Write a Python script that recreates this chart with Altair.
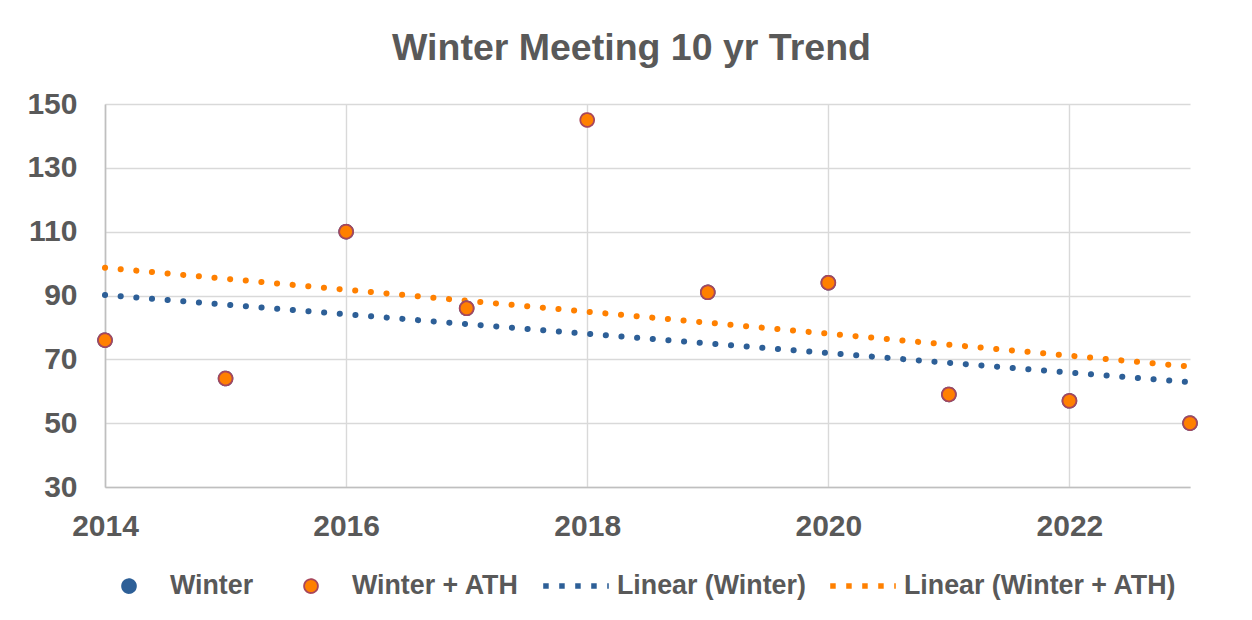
import altair as alt
import pandas as pd

years = [2014, 2015, 2016, 2017, 2018, 2019, 2020, 2021, 2022, 2023]
winter = [76, 64, 110, 86, None, 91, 94, 59, 57, 50]
winter_ath = [76, 64, 110, 86, 145, 91, 94, 59, 57, 50]

series_names = ["Winter", "Winter + ATH", "Linear (Winter)", "Linear (Winter + ATH)"]
x_ticks = [2014, 2016, 2018, 2020, 2022]
y_ticks = [30, 50, 70, 90, 110, 130, 150]

BLUE = "#2D5F97"
ORANGE = "#FF8000"
RED_EDGE = "#A8475B"
TEXT = "#595959"
FONT = "Liberation Sans"

rows = []
for yr, w, wa in zip(years, winter, winter_ath):
    if w is not None:
        rows.append({"year": yr, "value": w, "series": "Winter"})
    if wa is not None:
        rows.append({"year": yr, "value": wa, "series": "Winter + ATH"})
df = pd.DataFrame(rows)

fill_scale = alt.Scale(domain=series_names, range=[BLUE, ORANGE, BLUE, ORANGE])
stroke_scale = alt.Scale(domain=series_names, range=[BLUE, RED_EDGE, BLUE, ORANGE])
shape_scale = alt.Scale(domain=series_names, range=["circle", "circle", "stroke", "stroke"])
size_scale = alt.Scale(type="ordinal", domain=series_names, range=[190, 190, 4300, 4300])
dash_scale = alt.Scale(domain=series_names, range=[[1, 0], [1, 0], [5.5, 10.5], [5.5, 10.5]])
sw_scale = alt.Scale(type="ordinal", domain=series_names, range=[1.8, 1.8, 5.5, 5.5])

legend = alt.Legend(
    title=None,
    orient="none",
    legendX=-12,
    legendY=469,
    direction="horizontal",
    columns=4,
    columnPadding=21,
    labelFont=FONT,
    labelFontSize=26.8,
    labelFontWeight="bold",
    labelColor=TEXT,
    labelOffset=5,
    labelLimit=500,
    clipHeight=26,
    padding=0,
)

x_enc = alt.X(
    "year:Q",
    scale=alt.Scale(domain=[2014, 2023], nice=False, zero=False),
    axis=alt.Axis(values=x_ticks, format="d", title=None, labelFlush=False),
)
y_enc = alt.Y(
    "value:Q",
    scale=alt.Scale(domain=[30, 150], nice=False, zero=False),
    axis=alt.Axis(values=y_ticks, title=None, labelFlush=False),
)

points = alt.Chart(df).mark_point(filled=True, opacity=1).encode(
    x=x_enc,
    y=y_enc,
    fill=alt.Fill("series:N", scale=fill_scale, legend=legend),
    stroke=alt.Stroke("series:N", scale=stroke_scale, legend=legend),
    shape=alt.Shape("series:N", scale=shape_scale, legend=legend),
    size=alt.Size("series:N", scale=size_scale, legend=legend),
    strokeWidth=alt.StrokeWidth("series:N", scale=sw_scale, legend=legend),
    strokeDash=alt.StrokeDash("series:N", scale=dash_scale, legend=legend),
    order=alt.Order("series:N"),
)

trend = (
    alt.Chart(df)
    .transform_regression("year", "value", groupby=["series"], extent=[2014, 2023])
    .transform_calculate(series="'Linear (' + datum.series + ')'")
    .mark_line(strokeCap="round", strokeWidth=6, strokeDash=[0.1, 15.6])
    .encode(
        x=x_enc,
        y=y_enc,
        stroke=alt.Stroke("series:N", scale=stroke_scale, legend=legend),
    )
)

chart = (
    alt.layer(trend, points)
    .properties(
        width=1085,
        height=383,
        background="white",
        padding={"left": 97, "top": 96, "right": 54, "bottom": 125},
        autosize=alt.AutoSizeParams(type="none"),
        title=alt.TitleParams(
            "Winter Meeting 10 yr Trend",
            font=FONT,
            fontSize=37.5,
            fontWeight="bold",
            color=TEXT,
            anchor="middle",
            dx=-16,
            offset=22,
        ),
    )
    .configure_view(strokeWidth=0)
    .configure_axis(
        labelFont=FONT,
        labelFontSize=30,
        labelFontWeight="bold",
        labelColor=TEXT,
        gridColor="#D9D9D9",
        gridWidth=1.4,
        domainColor="#BFBFBF",
        domainWidth=1.6,
        ticks=False,
    )
    .configure_axisY(labelPadding=28, domain=True)
    .configure_axisX(labelPadding=24, domain=True)
)

chart.save("out.html", embed_options={"renderer": "svg", "actions": False})
